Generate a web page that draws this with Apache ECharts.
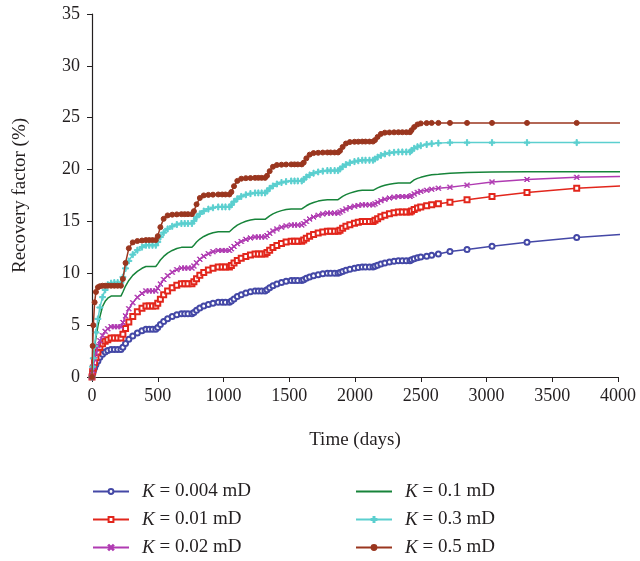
<!DOCTYPE html>
<html>
<head>
<meta charset="utf-8">
<script src="https://cdn.jsdelivr.net/npm/echarts@6/dist/echarts.min.js"></script>
<style>
html,body{margin:0;padding:0;background:#fff;}
#chart{width:640px;height:561px;}
</style>
</head>
<body>
<div id="chart"></div>
<script>
// Time (days) shared by all series
const days = [
  0,5,10,20,30,45,60,80,100,120,145,170,195,
  220,235,255,280,310,345,380,410,435,460,
  485,500,520,545,575,610,645,680,705,730,
  760,775,795,820,850,885,920,960,990,1015,
  1045,1060,1080,1105,1135,1170,1205,1240,1265,1290,
  1316,1331,1351,1376,1406,1441,1476,1515,1540,1565,
  1595,1610,1630,1655,1685,1720,1755,1790,1815,1845,
  1871,1886,1906,1931,1961,1996,2025,2055,2080,2110,
  2137,2152,2172,2197,2227,2262,2297,2330,2360,2390,
  2418,2430,2450,2475,2500,2545,2583,2634,2722,2852,3042,3308,3686,4150
];

const rfK0004 = [
  0,0.35,0.55,0.9,1.2,1.55,1.9,2.2,2.4,2.55,2.65,2.65,2.65,
  2.65,2.88,3.24,3.63,3.96,4.25,4.46,4.6,4.6,4.6,
  4.6,4.78,5.05,5.35,5.61,5.83,6.0,6.1,6.1,6.1,
  6.1,6.23,6.43,6.65,6.84,7.0,7.12,7.2,7.2,7.2,
  7.2,7.33,7.53,7.75,7.94,8.1,8.22,8.3,8.3,8.3,
  8.3,8.42,8.6,8.8,8.97,9.12,9.23,9.3,9.3,9.3,
  9.3,9.38,9.51,9.65,9.77,9.87,9.95,10.0,10.0,10.0,
  10.0,10.07,10.18,10.3,10.4,10.49,10.56,10.6,10.6,10.6,
  10.6,10.67,10.78,10.9,11.0,11.09,11.16,11.2,11.2,11.2,
  11.2,11.3,11.4,11.5,11.58,11.65,11.75,11.85,12.1,12.3,12.6,13.0,13.45,13.85
];

const rfK001 = [
  0,0.5,0.85,1.4,1.85,2.4,2.85,3.2,3.45,3.6,3.75,3.75,3.75,
  3.75,4.12,4.68,5.3,5.83,6.29,6.63,6.85,6.85,6.85,
  6.85,7.11,7.5,7.93,8.29,8.61,8.85,9.0,9.0,9.0,
  9.0,9.19,9.48,9.8,10.07,10.31,10.49,10.6,10.6,10.6,
  10.6,10.75,10.98,11.23,11.44,11.63,11.76,11.85,11.85,11.85,
  11.85,12.0,12.23,12.48,12.69,12.88,13.01,13.1,13.1,13.1,
  13.1,13.21,13.39,13.58,13.74,13.88,13.98,14.05,14.05,14.05,
  14.05,14.16,14.34,14.53,14.69,14.83,14.93,15.0,15.0,15.0,
  15.0,15.11,15.27,15.45,15.6,15.74,15.84,15.9,15.9,15.9,
  15.9,16.0,16.15,16.3,16.4,16.5,16.6,16.7,16.85,17.1,17.4,17.8,18.2,18.5
];

const rfK002 = [
  0,0.6,1.0,1.7,2.3,3.0,3.5,4.0,4.4,4.65,4.85,4.85,4.85,
  4.85,5.26,5.89,6.58,7.16,7.68,8.06,8.3,8.3,8.3,
  8.3,8.56,8.96,9.4,9.77,10.1,10.35,10.5,10.5,10.5,
  10.5,10.7,11.01,11.35,11.64,11.89,12.08,12.2,12.2,12.2,
  12.2,12.36,12.59,12.85,13.07,13.27,13.41,13.5,13.5,13.5,
  13.5,13.64,13.85,14.08,14.27,14.44,14.57,14.65,14.65,14.65,
  14.65,14.79,15.0,15.23,15.42,15.59,15.72,15.8,15.8,15.8,
  15.8,15.9,16.04,16.2,16.34,16.46,16.54,16.6,16.6,16.6,
  16.6,16.7,16.84,17.0,17.14,17.26,17.34,17.4,17.4,17.4,
  17.4,17.5,17.65,17.8,17.9,18.0,18.1,18.2,18.3,18.5,18.8,19.05,19.25,19.38
];

const rfK01 = [
  0,1.0,1.8,2.9,3.8,4.9,5.8,6.8,7.3,7.6,7.8,7.8,7.8,
  7.8,8.2,8.77,9.31,9.8,10.19,10.48,10.65,10.65,10.65,
  10.65,10.91,11.28,11.63,11.95,12.2,12.39,12.5,12.5,12.5,
  12.5,12.71,13.01,13.3,13.55,13.76,13.91,14.0,14.0,14.0,
  14.0,14.17,14.41,14.64,14.84,15.01,15.13,15.2,15.2,15.2,
  15.2,15.34,15.54,15.73,15.9,16.04,16.14,16.2,16.2,16.2,
  16.2,16.33,16.51,16.68,16.83,16.96,17.05,17.1,17.1,17.1,
  17.1,17.23,17.41,17.58,17.73,17.86,17.95,18.0,18.0,18.0,
  18.0,18.1,18.24,18.37,18.49,18.59,18.66,18.7,18.7,18.7,
  18.7,18.85,19.0,19.15,19.25,19.4,19.5,19.55,19.65,19.72,19.77,19.8,19.8,19.8
];

const rfK03 = [
  0,1.0,1.8,3.0,4.3,5.6,6.7,7.7,8.4,8.9,9.05,9.1,9.1,
  9.1,9.64,10.47,11.19,11.8,12.23,12.52,12.7,12.7,12.7,
  12.7,13.02,13.5,13.92,14.28,14.53,14.7,14.8,14.8,14.8,
  14.8,15.04,15.41,15.73,16.0,16.19,16.32,16.4,16.4,16.4,
  16.4,16.6,16.91,17.18,17.41,17.57,17.68,17.75,17.75,17.75,
  17.75,17.92,18.19,18.42,18.61,18.75,18.84,18.9,18.9,18.9,
  18.9,19.05,19.28,19.48,19.65,19.77,19.85,19.9,19.9,19.9,
  19.9,20.05,20.28,20.48,20.65,20.77,20.85,20.9,20.9,20.9,
  20.9,21.02,21.2,21.36,21.5,21.6,21.66,21.7,21.7,21.7,
  21.7,21.85,22.05,22.2,22.3,22.42,22.5,22.55,22.6,22.6,22.6,22.6,22.6,22.6
];

const rfK05 = [
  0,3.0,5.0,7.2,8.2,8.65,8.75,8.8,8.8,8.8,8.8,8.8,8.8,
  8.8,9.46,11.0,12.41,12.98,13.11,13.16,13.2,13.2,13.2,
  13.2,13.58,14.45,15.25,15.58,15.65,15.68,15.7,15.7,15.7,
  15.7,15.99,16.65,17.26,17.51,17.56,17.58,17.6,17.6,17.6,
  17.6,17.84,18.4,18.91,19.12,19.17,19.18,19.2,19.2,19.2,
  19.2,19.4,19.85,20.27,20.44,20.47,20.49,20.5,20.5,20.5,
  20.5,20.67,21.08,21.44,21.59,21.62,21.64,21.65,21.65,21.65,
  21.65,21.81,22.18,22.51,22.65,22.68,22.69,22.7,22.7,22.7,
  22.7,22.84,23.15,23.44,23.56,23.58,23.59,23.6,23.6,23.6,
  23.6,23.8,24.1,24.35,24.45,24.48,24.5,24.5,24.5,24.5,24.5,24.5,24.5,24.5
];

const seriesNames = ['K = 0.004 mD','K = 0.01 mD','K = 0.02 mD','K = 0.1 mD','K = 0.3 mD','K = 0.5 mD'];
const xTicks = [0,500,1000,1500,2000,2500,3000,3500,4000];
const yTicks = [0,5,10,15,20,25,30,35];

const SERIF = '"Liberation Serif","DejaVu Serif",serif';
const plusPath = 'path://M4,0H6V4H10V6H6V10H4V6H0V4H4Z';
const crossPath = 'path://M0,1L1,0L5,4L9,0L10,1L6,5L10,9L9,10L5,6L1,10L0,9L4,5Z';

function pairs(vals){ return days.map((d,i)=>[d, vals[i]]); }

const styles = [
  {data: rfK0004, color:'#4448a6', symbol:'emptyCircle', size:5},
  {data: rfK001,  color:'#e2261c', symbol:'emptyRect',   size:5},
  {data: rfK002,  color:'#b03bb2', symbol:crossPath,     size:5},
  {data: rfK01,   color:'#17843a', symbol:'none',        size:0},
  {data: rfK03,   color:'#5bcfcf', symbol:plusPath,      size:6},
  {data: rfK05,   color:'#9a361f', symbol:'circle',      size:5}
];

const series = styles.map((s,i)=>({
  name: seriesNames[i],
  type: 'line',
  data: pairs(s.data),
  symbol: s.symbol,
  symbolSize: s.size,
  showSymbol: s.symbol !== 'none',
  showAllSymbol: true,
  clip: true,
  animation: false,
  lineStyle: {color: s.color, width: 1.5},
  itemStyle: {color: s.color, borderColor: s.color, borderWidth: 1},
  z: 2 + i
}));

function legendFmt(n){ return '{i|K}' + n.slice(1); }
const legendText = {
  color:'#231f20', fontFamily: SERIF, fontSize: 19, padding:[0,0,0,8],
  rich: { i: {fontStyle:'italic', fontFamily: SERIF, fontSize: 19, color:'#231f20'} }
};
const legendBase = {
  orient:'vertical', top:482, height:90, padding:0,
  itemWidth:36, itemHeight:6, itemGap:9, formatter:legendFmt, textStyle:legendText
};
const legendCol2 = [
  {name: seriesNames[3], itemStyle:{opacity:0}},
  {name: seriesNames[4]},
  {name: seriesNames[5]}
];

const chart = echarts.init(document.getElementById('chart'), null, {renderer:'canvas'});
chart.setOption({
  backgroundColor:'#fff',
  animation:false,
  grid:{left:92, right:22, top:14, bottom:184, containLabel:false},
  xAxis:{
    type:'value', min:xTicks[0], max:xTicks[xTicks.length-1], interval:500,
    name:'Time (days)', nameLocation:'middle', nameGap:54,
    nameTextStyle:{fontFamily:SERIF, fontSize:19, color:'#231f20'},
    axisLine:{show:true, onZero:false, lineStyle:{color:'#231f20', width:1.2}},
    axisTick:{show:true, inside:false, length:5, lineStyle:{color:'#231f20'}},
    axisLabel:{fontFamily:SERIF, fontSize:18, color:'#231f20', margin:10, formatter: v => String(v)},
    splitLine:{show:false}
  },
  yAxis:{
    type:'value', min:yTicks[0], max:yTicks[yTicks.length-1], interval:5,
    name:'Recovery factor (%)', nameLocation:'middle', nameGap:62, nameRotate:90,
    nameTextStyle:{fontFamily:SERIF, fontSize:19, color:'#231f20'},
    axisLine:{show:true, onZero:false, lineStyle:{color:'#231f20', width:1.2}},
    axisTick:{show:true, inside:false, length:5, lineStyle:{color:'#231f20'}},
    axisLabel:{fontFamily:SERIF, fontSize:18, color:'#231f20', margin:12, formatter: v => String(v)},
    splitLine:{show:false}
  },
  legend:[
    Object.assign({data:seriesNames.slice(0,3), left:92}, legendBase),
    Object.assign({data:legendCol2, left:355}, legendBase)
  ],
  series: series
});
</script>
</body>
</html>
